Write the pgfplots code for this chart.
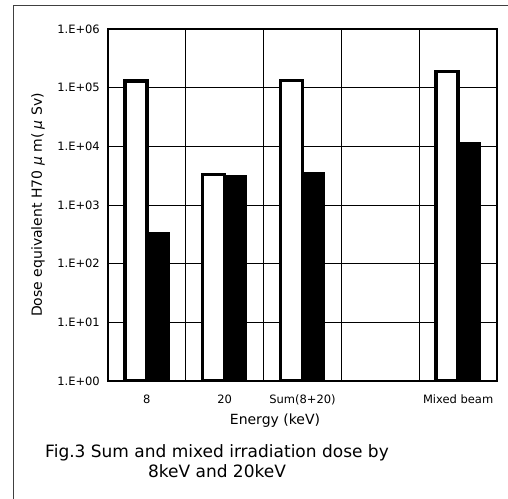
\documentclass[border=0pt]{standalone}
\usepackage{pgfplots}
\pgfplotsset{compat=1.18}
\usepackage{fontspec}
\setmainfont{DejaVu Sans}
\begin{document}
\begin{tikzpicture}[x=1bp,y=1bp]
\path[use as bounding box] (0,0) rectangle (508,499);
% outer frame (top and left visible)
\draw[line width=0.8bp, black!75] (13,0) -- (13,494) -- (508,494);
\begin{axis}[
  at={(108bp,118bp)}, anchor=south west,
  scale only axis, width=389bp, height=352bp,
  ymode=log, ymin=1, ymax=1e6,
  xmin=-0.5, xmax=4.5,
  ybar=0pt, bar width=22bp,
  xtick={0,1,2,4},
  xticklabels={8,20,Sum(8+20),Mixed beam},
  minor xtick={0.5,1.5,2.5,3.5},
  ytick={1,10,100,1000,10000,100000,1000000},
  yticklabels={1.E+00,1.E+01,1.E+02,1.E+03,1.E+04,1.E+05,1.E+06},
  yminorticks=false,
  major tick length=0pt, minor tick length=0pt,
  ymajorgrids, xminorgrids,
  grid style={black, line width=0.8bp},
  minor grid style={black, line width=0.8bp},
  axis line style={black, line width=2bp},
  tick label style={font=\fontsize{11.5bp}{13bp}\selectfont},
  yticklabel style={anchor=east, inner sep=0pt, xshift=-8bp},
  xticklabel style={anchor=north, inner sep=0pt, yshift=-14bp},
]
\addplot[draw=black, fill=white, line width=3.5bp] coordinates {(0,130000) (1,3300) (2,133000) (4,190000)};
\addplot[draw=black, fill=black, line width=0.5bp] coordinates {(0,345) (1,3200) (2,3550) (4,11800)};
\end{axis}
\node[rotate=90, font=\fontsize{14bp}{16bp}\selectfont] at (38,294) {Dose equivalent H70 \textit{μ} m( \textit{μ} Sv)};
\node[font=\fontsize{14bp}{16bp}\selectfont] at (275,78) {Energy (keV)};
\node[font=\fontsize{17bp}{20bp}\selectfont, align=center] at (217,38) {Fig.3 Sum and mixed irradiation dose by\\8keV and 20keV};
\end{tikzpicture}
\end{document}
